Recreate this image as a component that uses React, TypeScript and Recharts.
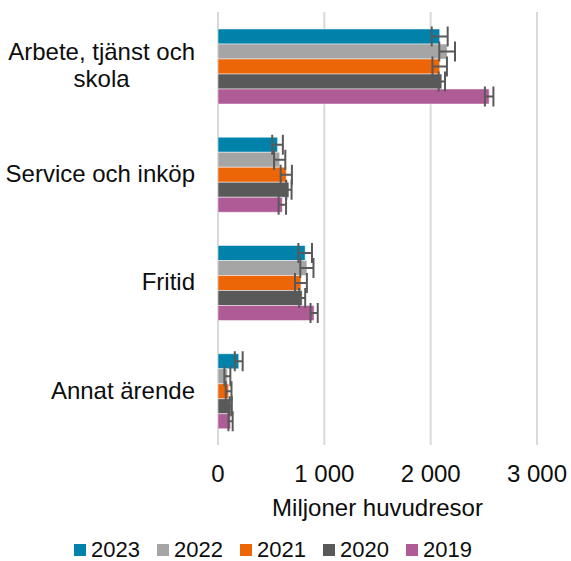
import { BarChart, Bar, XAxis, YAxis, CartesianGrid, ErrorBar, Legend } from "recharts";

const categories = ["Arbete, tjänst och skola", "Service och inköp", "Fritid", "Annat ärende"];
const years = ["2023", "2022", "2021", "2020", "2019"];
const colors = ["#0082AA", "#A5A5A5", "#EC6608", "#595959", "#AF5B96"];

// miljoner huvudresor per ärende
const values2023 = [2085, 560, 820, 195];
const values2022 = [2155, 580, 836, 88];
const values2021 = [2085, 642, 780, 100];
const values2020 = [2105, 667, 792, 120];
const values2019 = [2550, 605, 904, 118];

// felmarginal (+/-)
const errors2023 = [75, 50, 64, 37];
const errors2022 = [74, 53, 62, 28];
const errors2021 = [68, 53, 56, 27];
const errors2020 = [30, 25, 28, 10];
const errors2019 = [40, 35, 34, 20];

const xTicks = [0, 1000, 2000, 3000];

const allValues = [values2023, values2022, values2021, values2020, values2019];
const allErrors = [errors2023, errors2022, errors2021, errors2020, errors2019];

const data = categories.map((name, i) => {
  const row: Record<string, string | number> = { name };
  years.forEach((y, s) => {
    row["v" + y] = allValues[s][i];
    row["e" + y] = allErrors[s][i];
  });
  return row;
});

const FONT = '"Liberation Sans", Arial, sans-serif';

let ctx: CanvasRenderingContext2D | null = null;
function measure(text: string, size: number) {
  if (!ctx) ctx = document.createElement("canvas").getContext("2d");
  if (!ctx) return text.length * size * 0.5;
  ctx.font = `${size}px ${FONT}`;
  return ctx.measureText(text).width;
}

function wrap(text: string, size: number, max: number) {
  const words = text.split(" ");
  const lines: string[] = [];
  let cur = "";
  for (const w of words) {
    const t = cur ? cur + " " + w : w;
    if (cur && measure(t, size) > max) {
      lines.push(cur);
      cur = w;
    } else cur = t;
  }
  if (cur) lines.push(cur);
  return lines;
}

const CategoryTick = (props: any) => {
  const { x, y, payload } = props;
  const size = 24;
  const lines = wrap(String(payload.value), size, 192);
  if (lines.length === 1) {
    return (
      <text x={x} y={y} dy="0.32em" textAnchor="end" fontSize={size} fill="#0d0d0d" fontFamily={FONT}>
        {lines[0]}
      </text>
    );
  }
  const w = Math.max(...lines.map(l => measure(l, size)));
  const lh = 26.7;
  const cx = x - w / 2;
  const first = y - ((lines.length - 1) * lh) / 2;
  return (
    <text x={cx} y={first} textAnchor="middle" fontSize={size} fill="#0d0d0d" fontFamily={FONT}>
      {lines.map((l, i) => (
        <tspan key={i} x={cx} y={first + i * lh} dy="0.32em">{l}</tspan>
      ))}
    </text>
  );
};

const fmt = (v: number) => String(v).replace(/\B(?=(\d{3})+(?!\d))/g, " ");

const LegendContent = () => (
  <div style={{ display: "flex", alignItems: "center", height: 20, paddingLeft: 74, fontSize: 22, fontFamily: FONT, color: "#0d0d0d" }}>
    {years.map((y, i) => (
      <div key={y} style={{ display: "flex", alignItems: "center", width: 83 }}>
        <span style={{ display: "inline-block", width: 12, height: 12, background: colors[i], marginRight: 5 }} />
        {y}
      </div>
    ))}
  </div>
);

export default function App() {
  return (
    <div style={{ position: "absolute", left: 0, top: 0 }}>
      <BarChart
        width={571}
        height={561}
        data={data}
        layout="vertical"
        margin={{ top: 12, right: 34, bottom: 24, left: 0 }}
        barSize={15}
        barGap={0}
        style={{ fontFamily: FONT }}
      >
        <CartesianGrid horizontal={false} stroke="#D9D9D9" strokeWidth={2} />
        <XAxis
          type="number"
          domain={[0, 3000]}
          ticks={xTicks}
          tickFormatter={fmt}
          axisLine={false}
          tickLine={false}
          tickSize={0}
          tickMargin={20}
          height={72}
          tick={{ fontSize: 24, fill: "#0d0d0d" }}
          label={{ value: "Miljoner huvudresor", position: "insideBottom", offset: 1, fontSize: 24, fill: "#0d0d0d" }}
        />
        <YAxis
          type="category"
          dataKey="name"
          width={218}
          axisLine={false}
          tickLine={false}
          tickSize={0}
          tickMargin={23}
          tick={<CategoryTick />}
          interval={0}
        />
        <Legend content={<LegendContent />} wrapperStyle={{ left: 0, top: 540, width: 571, height: 20 }} />
        {years.map((y, i) => (
          <Bar key={y} dataKey={"v" + y} name={y} fill={colors[i]} stroke="#ffffff" strokeOpacity={0.6} strokeWidth={0.8} isAnimationActive={false}>
            <ErrorBar dataKey={"e" + y} direction="x" width={10} stroke="#595959" strokeWidth={2} isAnimationActive={false} />
          </Bar>
        ))}
      </BarChart>
    </div>
  );
}
